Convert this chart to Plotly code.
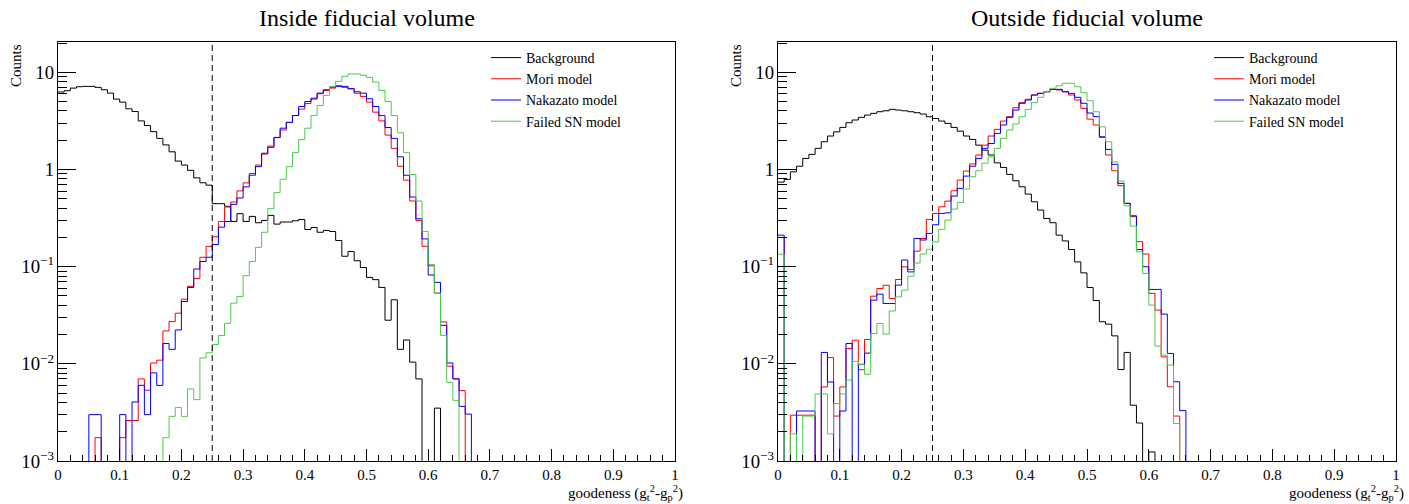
import numpy as np
import plotly.graph_objects as go

# ---------------- data (counts per 0.01 bin, 100 bins on [0,1]) ----------------
N_BINS = 100
X_MIN, X_MAX = 0.0, 1.0
CUT = 0.25
SERIES_NAMES = ["Background", "Mori model", "Nakazato model", "Failed SN model"]
SERIES_COLORS = ["#000000", "#ff0000", "#0000ff", "#4ccc4c"]
PANEL_TITLES = ["Inside fiducial volume", "Outside fiducial volume"]

in_background = [6.27, 6.46, 6.88, 7.11, 7.17, 7.17, 7.0, 6.62, 6.11, 5.30,
                 4.93, 4.21, 3.95, 3.16, 2.83, 2.45, 2.09, 1.79, 1.52, 1.22,
                 1.11, 0.98, 0.82, 0.73, 0.69, 0.445, 0.445, 0.418, 0.292, 0.351,
                 0.292, 0.329, 0.283, 0.299, 0.337, 0.274, 0.288, 0.288, 0.297, 0.306,
                 0.241, 0.253, 0.226, 0.236, 0.230, 0.186, 0.128, 0.143, 0.115, 0.098,
                 0.0776, 0.0735, 0.0611, 0.0281, 0.0456, 0.0141, 0.0176, 0.0104, 0.0070, 0,
                 0, 0.0035] + [0] * 38

in_mori = [0, 0, 0, 0, 0, 0, 0.00174, 0, 0, 0,
           0.00174, 0.00261, 0.00261, 0.0070, 0.00535, 0.0102, 0.0109, 0.0218, 0.0272, 0.0332,
           0.0463, 0.0627, 0.0757, 0.125, 0.162, 0.203, 0.292, 0.411, 0.463, 0.602,
           0.728, 0.910, 1.11, 1.44, 1.74, 2.14, 2.55, 3.04, 3.59, 4.18,
           4.78, 5.30, 6.01, 6.51, 6.88, 7.28, 7.00, 6.78, 6.36, 5.65,
           4.93, 3.89, 3.16, 2.26, 1.65, 1.08, 0.776, 0.474, 0.299, 0.162,
           0.102, 0.0534, 0.0270, 0.00946, 0.0070, 0.0053] + [0] * 34

in_nakazato = [0, 0, 0, 0, 0, 0.003, 0.003, 0, 0, 0,
               0.003, 0, 0.00405, 0.00601, 0.003, 0.00807, 0.006, 0.0162, 0.0141, 0.0223,
               0.0438, 0.0611, 0.0946, 0.113, 0.125, 0.169, 0.255, 0.292, 0.438, 0.509,
               0.662, 0.873, 1.07, 1.47, 1.69, 2.13, 2.66, 3.06, 3.59, 4.45,
               5.01, 5.42, 6.11, 6.62, 7.05, 7.17, 7.17, 6.78, 6.11, 6.11,
               5.34, 4.45, 3.59, 2.70, 2.09, 1.35, 0.873, 0.521, 0.311, 0.193,
               0.082, 0.0689, 0.0249, 0.0102, 0.0070, 0.00365, 0.00304] + [0] * 33

in_failed = [0, 0, 0, 0, 0, 0, 0, 0, 0, 0,
             0, 0, 0, 0, 0, 0, 0, 0.00174, 0.00288, 0.00356,
             0.00288, 0.00551, 0.00428, 0.0115, 0.0130, 0.0158, 0.0196, 0.0261, 0.0421, 0.0493,
             0.0807, 0.113, 0.158, 0.226, 0.395, 0.578, 0.794, 1.07, 1.49, 2.04,
             2.66, 3.59, 4.56, 5.78, 7.17, 8.07, 9.10, 9.62, 9.62, 9.31,
             8.88, 7.94, 6.51, 5.01, 3.59, 2.39, 1.49, 0.887, 0.474, 0.230,
             0.105, 0.0534, 0.0196, 0.00646, 0.00421] + [0] * 35

out_background = [0.741, 0.79, 0.946, 1.08, 1.30, 1.43, 1.65, 1.93, 2.21, 2.44,
                  2.71, 3.03, 3.23, 3.44, 3.63, 3.78, 3.93, 4.02, 4.16, 4.09,
                  4.02, 3.93, 3.84, 3.72, 3.49, 3.35, 3.15, 2.98, 2.71, 2.48,
                  2.21, 2.04, 1.78, 1.58, 1.41, 1.17, 1.05, 0.891, 0.766, 0.664,
                  0.558, 0.465, 0.382, 0.313, 0.283, 0.211, 0.184, 0.150, 0.112, 0.0863,
                  0.0611, 0.0448, 0.0271, 0.0256, 0.0194, 0.00873, 0.0131, 0.00375, 0.00246, 0,
                  0.00124] + [0] * 39

out_mori = [0.200, 0, 0.00296, 0.00296, 0.00296, 0.00296, 0, 0.00578, 0.0116, 0.0029,
            0.00578, 0.0144, 0.0175, 0.0087, 0.0178, 0.0497, 0.0596, 0.0644, 0.047, 0.0738,
            0.0995, 0.0935, 0.1445, 0.195, 0.306, 0.353, 0.413, 0.473, 0.604, 0.778,
            0.963, 1.14, 1.41, 1.78, 2.21, 2.59, 3.15, 3.49, 4.32, 4.87,
            5.28, 5.84, 6.08, 6.31, 6.68, 6.58, 6.31, 5.84, 5.19, 4.26,
            3.30, 2.87, 2.14, 1.41, 0.971, 0.681, 0.448, 0.327, 0.181, 0.135,
            0.0531, 0.0357, 0.0118, 0.0058, 0.0029] + [0] * 35

out_nakazato = [0.211, 0, 0, 0.00327, 0.00327, 0.00327, 0, 0.0131, 0.0065, 0,
                0.00327, 0.0162, 0, 0.0099, 0.0129, 0.0452, 0.0521, 0.0418, 0.0418, 0.0646,
                0.117, 0.0883, 0.195, 0.188, 0.22, 0.27, 0.353, 0.358, 0.532, 0.639,
                0.855, 1.08, 1.30, 1.65, 1.85, 2.35, 2.87, 3.44, 4.09, 4.80,
                5.19, 5.84, 6.08, 6.31, 6.68, 6.68, 6.31, 6.08, 5.53, 4.80,
                3.81, 3.50, 2.17, 1.61, 1.13, 0.719, 0.448, 0.334, 0.150, 0.0998,
                0.0583, 0.0583, 0.0325, 0.0128, 0.00653, 0.0033] + [0] * 34

out_failed = [0.134, 0, 0.0019, 0, 0.0029, 0.0029, 0.0049, 0.0049, 0.0019, 0.0039,
              0.0049, 0.0068, 0.0106, 0.0098, 0.0078, 0.0205, 0.026, 0.0202, 0.035, 0.0489,
              0.0573, 0.0798, 0.109, 0.135, 0.151, 0.180, 0.242, 0.301, 0.391, 0.458,
              0.629, 0.842, 0.971, 1.16, 1.35, 1.65, 2.09, 2.55, 2.94, 3.49,
              4.16, 4.87, 5.53, 6.31, 6.84, 7.28, 7.71, 7.71, 7.11, 6.17,
              5.10, 3.93, 2.75, 1.93, 1.20, 0.759, 0.423, 0.261, 0.142, 0.0851,
              0.0402, 0.0152, 0.0123, 0.0097, 0.00243] + [0] * 35

# ---------------- figure ----------------
W, H = 1409, 504
SERIF = "Liberation Serif, Times New Roman, serif"
edges = np.linspace(X_MIN, X_MAX, N_BINS + 1)
FLOOR = 1e-7  # empty bins drawn down below the visible log range


def step_xy(vals):
    y = [v if v > 0 else FLOOR for v in vals]
    return edges, y + [y[-1]]


panels = [
    dict(series=[in_background, in_mori, in_nakazato, in_failed], xa="x", ya="y", lg="legend"),
    dict(series=[out_background, out_mori, out_nakazato, out_failed], xa="x2", ya="y2", lg="legend2"),
]

fig = go.Figure()
for p in panels:
    for name, color, vals in zip(SERIES_NAMES, SERIES_COLORS, p["series"]):
        xs, ys = step_xy(vals)
        fig.add_trace(go.Scatter(
            x=xs, y=ys, mode="lines", line=dict(color=color, width=1, shape="hv"),
            name=name, xaxis=p["xa"], yaxis=p["ya"], legend=p["lg"], hoverinfo="skip"))

# plot-area geometry (pixels)
L1, R1 = 58, 675
L2, R2 = 778, 1396
TOP, BOT = 42, 461
ydom = [(H - BOT) / H, (H - TOP) / H]

xcommon = dict(range=[X_MIN, X_MAX], tick0=0, dtick=0.1, ticks="inside", ticklen=12,
               tickwidth=1, tickcolor="black", showline=True, linecolor="black", linewidth=1,
               mirror=True, showgrid=False, zeroline=False, automargin=False,
               tickfont=dict(family=SERIF, size=15, color="black"),
               minor=dict(ticks="inside", ticklen=6, dtick=0.02, tickcolor="black", showgrid=False))
ycommon = dict(type="log", range=[-3, 1.312], dtick=1, exponentformat="power", ticks="inside",
               ticklen=18, tickwidth=1, tickcolor="black", showline=True, linecolor="black",
               linewidth=1, mirror=True, showgrid=False, zeroline=False, automargin=False,
               tickfont=dict(family=SERIF, size=15, color="black"),
               minor=dict(ticks="inside", ticklen=9, dtick="D1", tickcolor="black", showgrid=False))

legcommon = dict(xanchor="left", yanchor="top", y=1 - 42 / H, bgcolor="rgba(0,0,0,0)",
                 borderwidth=0, tracegroupgap=0, itemwidth=30,
                 font=dict(family=SERIF, size=14, color="black"))

fig.update_layout(
    width=W, height=H, margin=dict(l=0, r=0, t=0, b=0),
    paper_bgcolor="white", plot_bgcolor="white",
    xaxis=dict(domain=[L1 / W, R1 / W], anchor="y", **xcommon),
    yaxis=dict(domain=ydom, anchor="x", **ycommon),
    xaxis2=dict(domain=[L2 / W, R2 / W], anchor="y2", **xcommon),
    yaxis2=dict(domain=ydom, anchor="x2", **ycommon),
    legend=dict(x=486 / W, **legcommon),
    legend2=dict(x=1209 / W, **legcommon),
    showlegend=True,
)

shapes = []
for xa in ["x", "x2"]:
    shapes.append(dict(type="line", xref=xa, yref=("y" if xa == "x" else "y2") + " domain",
                       x0=CUT, x1=CUT, y0=0, y1=1,
                       line=dict(color="black", width=1, dash="6px,4px")))
fig.update_layout(shapes=shapes)

ann = []
for (l, r), title in zip([(L1, R1), (L2, R2)], PANEL_TITLES):
    ann.append(dict(text=title, xref="paper", yref="paper", x=(l + r) / 2 / W, y=1 - 18 / H,
                    xanchor="center", yanchor="middle", showarrow=False,
                    font=dict(family=SERIF, size=24, color="black")))
    ann.append(dict(text="Counts", xref="paper", yref="paper", x=(l - 42) / W, y=1 - 66 / H,
                    xanchor="center", yanchor="middle", textangle=-90, showarrow=False,
                    font=dict(family=SERIF, size=15, color="black")))
    ann.append(dict(text="goodeness (g<sub>t</sub><sup>2</sup>-g<sub>p</sub><sup>2</sup>)",
                    xref="paper", yref="paper", x=(r + 10) / W, y=1 - 493 / H,
                    xanchor="right", yanchor="middle", showarrow=False,
                    font=dict(family=SERIF, size=15, color="black")))
fig.update_layout(annotations=ann)

fig.write_html("out.html")
